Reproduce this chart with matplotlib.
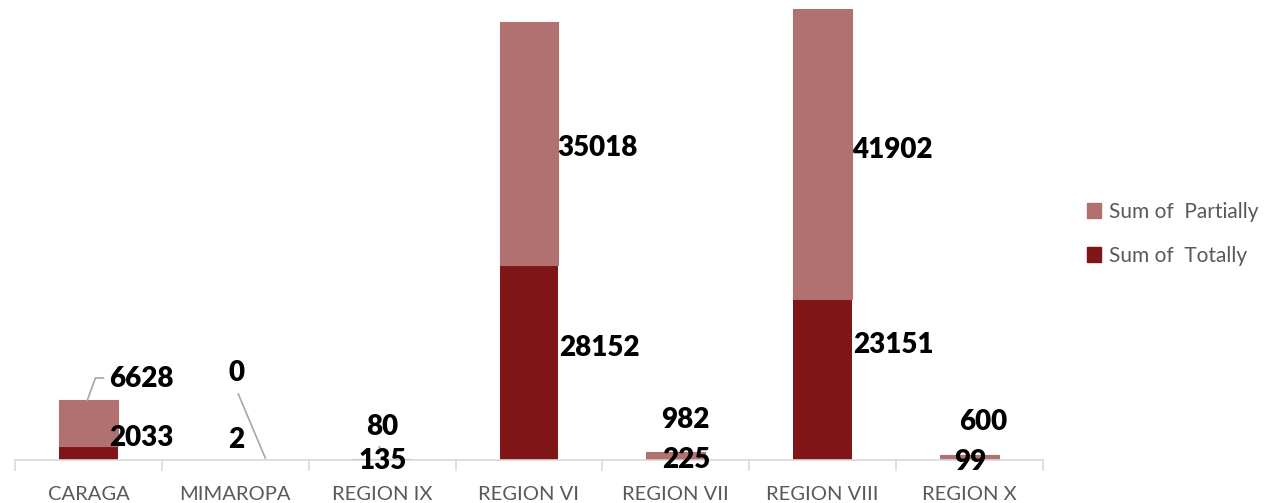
import matplotlib
matplotlib.use("Agg")
import matplotlib.pyplot as plt
import numpy as np
from matplotlib.patches import Patch

regions = ["CARAGA", "MIMAROPA", "REGION IX", "REGION VI", "REGION VII", "REGION VIII", "REGION X"]
totally = [2033, 2, 135, 28152, 225, 23151, 99]
partially = [6628, 0, 80, 35018, 982, 41902, 600]

# label offsets in pixels from (bar centre, segment middle)
totally_offsets = [(53, 15), (1, 20), (1, -1), (70, 14), (10, -1), (71, 35), (1, -2)]
partially_offsets = [(53, 44), (1, 87), (0, 32), (68, -5), (9, 35), (70, 4), (14, 35)]

DARK = "#7f1517"
LIGHT = "#b07170"
GREY_TEXT = "#595959"
AXIS_GREY = "#d9d9d9"

plt.rcParams["font.family"] = ["Lato", "DejaVu Sans"]

fig = plt.figure(figsize=(12.66, 5.03), dpi=100)
ax = fig.add_axes([15 / 1266, 43 / 503, (1043 - 15) / 1266, (460 - 9) / 503])

x = np.arange(len(regions))
totally = np.array(totally)
partially = np.array(partially)
ax.bar(x, totally, width=0.4, color=DARK, label="Sum of  Totally")
ax.bar(x, partially, width=0.4, bottom=totally, color=LIGHT, edgecolor=LIGHT,
       linewidth=0.8, label="Sum of  Partially")

ax.set_xlim(-0.5, len(regions) - 0.5)
ax.set_ylim(0, (totally + partially).max())

for side in ["top", "right", "left"]:
    ax.spines[side].set_visible(False)
ax.spines["bottom"].set_color(AXIS_GREY)
ax.spines["bottom"].set_linewidth(1.2)
ax.set_yticks([])
ax.set_xticks(x)
ax.set_xticklabels(regions, fontsize=14.5, color=GREY_TEXT)
ax.tick_params(axis="x", length=0, pad=19)
ax.set_xticks(np.arange(len(regions) + 1) - 0.5, minor=True)
ax.tick_params(axis="x", which="minor", length=8, width=1.2, color=AXIS_GREY)

label_style = dict(textcoords="offset pixels", ha="center", va="center",
                   fontsize=20, fontweight="heavy", color="black")
for i in range(len(regions)):
    ax.annotate(str(totally[i]), xy=(x[i], totally[i] / 2),
                xytext=totally_offsets[i], **label_style)
    ax.annotate(str(partially[i]), xy=(x[i], totally[i] + partially[i] / 2),
                xytext=partially_offsets[i], **label_style)


def px_point(i, value, dx, dy):
    px, py = ax.transData.transform((x[i], value))
    return ax.transData.inverted().transform((px + dx, py + dy))


leader_kw = dict(color="#a6a6a6", linewidth=1.2, clip_on=False)
# CARAGA partial leader (elbow)
pts = [px_point(0, totally[0] + partially[0], -1, 0),
       px_point(0, totally[0] + partially[0], 7, 22),
       px_point(0, totally[0] + partially[0], 15, 22)]
ax.plot([p[0] for p in pts], [p[1] for p in pts], **leader_kw)
# MIMAROPA partial leader
pts = [px_point(1, totally[1], 3, 66), px_point(1, totally[1], 30, 2)]
ax.plot([p[0] for p in pts], [p[1] for p in pts], **leader_kw)
# REGION IX partial leader
mid = totally[2] + partially[2] / 2
pts = [px_point(2, mid, -3, 12), px_point(2, mid, 4, 4)]
ax.plot([p[0] for p in pts], [p[1] for p in pts], **leader_kw)

handles = [Patch(color=LIGHT, label="Sum of  Partially"),
           Patch(color=DARK, label="Sum of  Totally")]
fig.legend(handles=handles, loc="center left", bbox_to_anchor=(1068 / 1266, 1 - 234 / 503),
           frameon=False, fontsize=15, labelcolor=GREY_TEXT,
           handlelength=0.7, handleheight=0.7, handletextpad=0.35, labelspacing=1.15)

fig.savefig("out.png", dpi=100)
